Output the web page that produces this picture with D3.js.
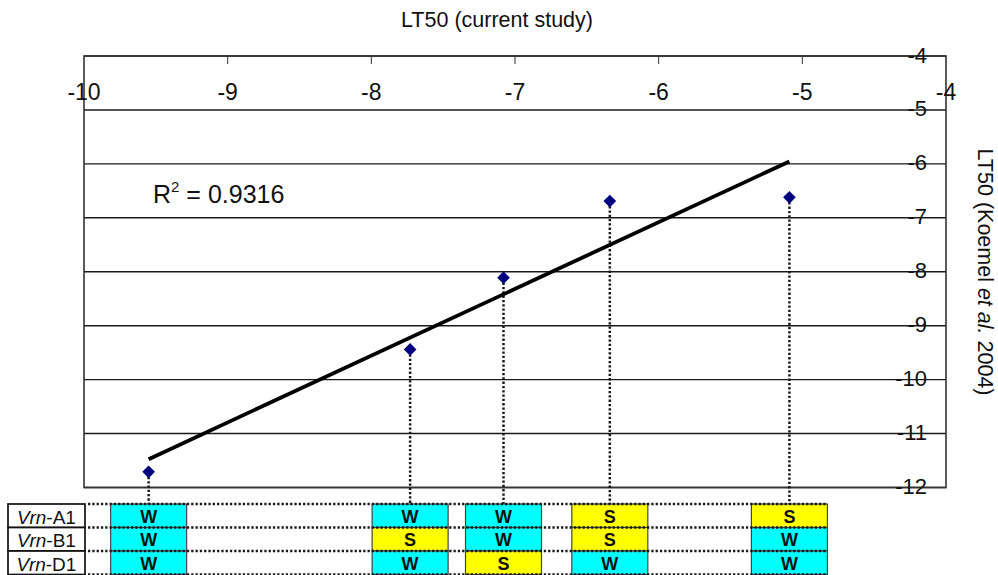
<!DOCTYPE html>
<html><head><meta charset="utf-8">
<script src="https://cdn.jsdelivr.net/npm/d3@7"></script>
<style>
body{margin:0;background:#fff;}
text{font-family:"Liberation Sans",Arial,sans-serif;fill:#111;}
</style></head>
<body><svg id="c" width="998" height="575"></svg>
<script>
// ---- data ----
const ltCurrent = [-9.55, -7.73, -7.08, -6.34, -5.09];   // x: LT50 current study
const ltKoemel  = [-11.71, -9.44, -8.11, -6.69, -6.62];  // y: LT50 Koemel et al. 2004
const genes = ["A1", "B1", "D1"];
const vrnA1 = ["W", "W", "W", "S", "S"];
const vrnB1 = ["W", "S", "W", "S", "W"];
const vrnD1 = ["W", "W", "S", "W", "W"];
const xTicks = [-10, -9, -8, -7, -6, -5, -4];
const yTicks = [-4, -5, -6, -7, -8, -9, -10, -11, -12];
const r2Label = "0.9316";
const xTitle = "LT50 (current study)";

const svg = d3.select("#c");
const x = d3.scaleLinear([-10, -4], [84, 946]);
const y = d3.scaleLinear([-4, -12], [56, 487.5]);
const row = d3.scaleBand(genes, [504, 574.5]);
const alleles = {A1: vrnA1, B1: vrnB1, D1: vrnD1};
const fillFor = {W: "#00FFFF", S: "#FFFF00"};

// gridlines (horizontal) + frame
svg.append("g").selectAll("line").data(yTicks).join("line")
  .attr("x1", x(-10)).attr("x2", x(-4))
  .attr("y1", d => y(d)).attr("y2", d => y(d))
  .attr("stroke", "#1a1a1a").attr("stroke-width", 1.4);
svg.append("rect").attr("x", x(-10)).attr("y", y(-4))
  .attr("width", x(-4) - x(-10)).attr("height", y(-12) - y(-4))
  .attr("fill", "none").attr("stroke", "#333").attr("stroke-width", 1.6);

// top axis ticks
svg.append("g").selectAll("line").data(xTicks.slice(1, -1)).join("line")
  .attr("x1", d => x(d)).attr("x2", d => x(d))
  .attr("y1", y(-4)).attr("y2", y(-4) + 8)
  .attr("stroke", "#333").attr("stroke-width", 1);
// top axis labels
svg.append("g").selectAll("text").data(xTicks).join("text")
  .attr("x", d => x(d)).attr("y", 100)
  .attr("text-anchor", "middle").attr("font-size", 23)
  .text(d => d);
// right axis labels
svg.append("g").selectAll("text").data(yTicks).join("text")
  .attr("x", 927).attr("y", d => y(d) - 1)
  .attr("text-anchor", "end").attr("dominant-baseline", "central")
  .attr("font-size", 22)
  .text(d => d);

// titles
svg.append("text").attr("x", 497).attr("y", 27)
  .attr("text-anchor", "middle").attr("font-size", 21.5).text(xTitle);
const yt = svg.append("text").attr("transform", "translate(985,272) rotate(90)")
  .attr("text-anchor", "middle").attr("dominant-baseline", "central").attr("font-size", 21.5);
yt.append("tspan").text("LT50 (Koemel ");
yt.append("tspan").attr("font-style", "italic").text("et al.");
yt.append("tspan").text(" 2004)");

// R^2 label
const rt = svg.append("text").attr("x", 153).attr("y", 203).attr("font-size", 25);
rt.append("tspan").text("R");
rt.append("tspan").attr("font-size", 15).attr("dy", -11).text("2");
rt.append("tspan").attr("dy", 11).text(" = " + r2Label);

// dotted drop lines from points to table
const dot = {stroke: "#1a1a1a", "stroke-width": 2.5, "stroke-dasharray": "2.3 2"};
const drops = svg.append("g").selectAll("line").data(ltCurrent).join("line")
  .attr("x1", d => x(d)).attr("x2", d => x(d))
  .attr("y1", (d, i) => y(ltKoemel[i]) + 5).attr("y2", row("A1"));
Object.entries(dot).forEach(([k, v]) => drops.attr(k, v));

// linear trend line (least squares of the points)
const mx = d3.mean(ltCurrent), my = d3.mean(ltKoemel);
const sxy = d3.sum(ltCurrent, (v, i) => (v - mx) * (ltKoemel[i] - my));
const sxx = d3.sum(ltCurrent, v => (v - mx) ** 2);
const slope = sxy / sxx, icpt = my - slope * mx;
const ext = d3.extent(ltCurrent);
svg.append("path")
  .attr("d", d3.line()(ext.map(v => [x(v), y(slope * v + icpt)])))
  .attr("stroke", "#000").attr("stroke-width", 3.8).attr("fill", "none");

// points (diamonds)
svg.append("g").selectAll("path").data(ltCurrent).join("path")
  .attr("d", d3.symbol(d3.symbolSquare, 80)())
  .attr("transform", (d, i) => `translate(${x(d)},${y(ltKoemel[i])}) rotate(45)`)
  .attr("fill", "#000080");

// table: label boxes
const lab = svg.append("g");
genes.forEach(g => {
  lab.append("rect").attr("x", 8).attr("y", row(g))
    .attr("width", 77).attr("height", row.bandwidth())
    .attr("fill", "#fff").attr("stroke", "#111").attr("stroke-width", 1.7);
  const t = lab.append("text").attr("x", 46.5).attr("y", row(g) + row.bandwidth() / 2 + 1)
    .attr("text-anchor", "middle").attr("dominant-baseline", "central").attr("font-size", 19);
  t.append("tspan").attr("font-style", "italic").text("Vrn");
  t.append("tspan").text("-" + g);
});

// allele cells
const cellW = 76;
genes.forEach(g => {
  const cg = svg.append("g");
  ltCurrent.forEach((v, i) => {
    const a = alleles[g][i];
    cg.append("rect").attr("x", x(v) - cellW / 2).attr("y", row(g))
      .attr("width", cellW).attr("height", row.bandwidth())
      .attr("fill", fillFor[a]).attr("stroke", "#444").attr("stroke-width", 1.2);
    cg.append("text").attr("x", x(v)).attr("y", row(g) + row.bandwidth() / 2 + 1)
      .attr("text-anchor", "middle").attr("dominant-baseline", "central")
      .attr("font-size", 18).attr("font-weight", "bold").text(a);
  });
});

// dotted row lines across table
const rowLines = [...genes.map(g => row(g)), row("D1") + row.bandwidth()];
const rl = svg.append("g").selectAll("line").data(rowLines).join("line")
  .attr("x1", 88).attr("x2", x(d3.max(ltCurrent)) + cellW / 2)
  .attr("y1", d => d).attr("y2", d => d);
Object.entries(dot).forEach(([k, v]) => rl.attr(k, v));
</script></body></html>
